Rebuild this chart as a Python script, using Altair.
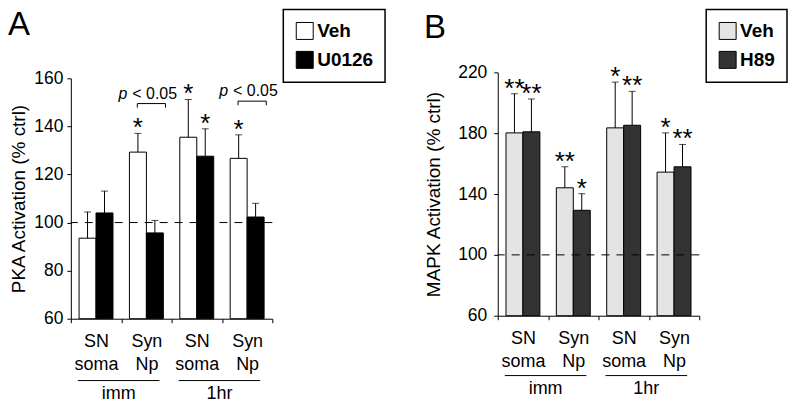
import altair as alt
import pandas as pd

# ---------------- data ----------------
SITES = ["SN soma", "Syn Np", "SN soma", "Syn Np"]
TIMES = ["imm", "imm", "1hr", "1hr"]
GROUPS = ["imm", "1hr"]
KEYS = [f"{t}|{s}" for t, s in zip(TIMES, SITES)]

A_TREAT = ["Veh", "U0126"]
A_COLORS = ["#ffffff", "#000000"]
A_VEH = [93.5, 129.3, 135.5, 126.7]
A_VEH_ERR = [10.9, 7.8, 15.7, 9.8]
A_U = [104.0, 95.7, 127.6, 102.3]
A_U_ERR = [9.1, 5.2, 11.4, 5.7]
A_VEH_STAR = ["", "*", "*", "*"]
A_U_STAR = ["", "", "*", ""]
A_BRACKET_IDX = [1, 3]
A_BRACKET_TOP = [149.5, 150.5]
A_BRACKET_LEG = 1.7
A_YTICKS = [60, 80, 100, 120, 140, 160]

B_TREAT = ["Veh", "H89"]
B_COLORS = ["#e4e4e4", "#333333"]
B_VEH = [180.2, 144.1, 183.5, 154.4]
B_VEH_ERR = [25.8, 13.8, 30.1, 25.8]
B_H = [180.9, 129.3, 185.2, 157.9]
B_H_ERR = [21.6, 10.9, 22.3, 14.7]
B_VEH_STAR = ["**", "**", "*", "*"]
B_H_STAR = ["**", "*", "**", "**"]
B_YTICKS = [60, 100, 140, 180, 220]

REF_LINE = 100
FONT = "Liberation Sans"
W = 202


def panel(letter, treat, colors, v1, e1, s1, v2, e2, s2, yticks, ytitle,
          height, yrange, legend_x, letter_x, letter_y, label_pad, title_pad,
          group_y, brackets=None):
    rows = []
    for i, k in enumerate(KEYS):
        for tr, vals, errs, stars in ((treat[0], v1, e1, s1), (treat[1], v2, e2, s2)):
            rows.append(dict(key=k, trt=tr, val=vals[i], top=vals[i] + errs[i], star=stars[i]))
    df = pd.DataFrame(rows)
    ymin, ymax = yticks[0], yticks[-1]

    xscale = alt.Scale(domain=KEYS, paddingInner=0, paddingOuter=0)
    xaxis = alt.Axis(title=None,
                     labelExpr="indexof(datum.label, '|') >= 0 ? split(split(datum.label, '|')[1], ' ') : ''",
                     tickBand="extent", tickSize=4, labelPadding=10,
                     labelLineHeight=23, labelAngle=0, labelFontSize=18)
    if yrange is not None:
        yscale = alt.Scale(domain=[ymin, ymax], nice=False, zero=False, range=yrange)
    else:
        yscale = alt.Scale(domain=[ymin, ymax], nice=False, zero=False)
    yaxis = alt.Axis(values=yticks, title=ytitle, tickSize=4,
                     labelPadding=label_pad, titlePadding=title_pad)

    def X(field, bp=None):
        if bp is None:
            return alt.X(f"{field}:N", scale=xscale, axis=xaxis)
        return alt.X(f"{field}:N", scale=xscale, axis=xaxis, bandPosition=bp)

    def Y(field):
        return alt.Y(f"{field}:Q", scale=yscale, axis=yaxis)

    xoff = alt.XOffset("trt:N", scale=alt.Scale(domain=treat, paddingInner=0, paddingOuter=0.485))

    base = alt.Chart(df)
    bars = base.mark_bar(stroke="black", strokeWidth=1, opacity=1).encode(
        x=X("key"),
        xOffset=xoff,
        y=Y("val"),
        y2=alt.datum(ymin),
        color=alt.Color("trt:N",
                        scale=alt.Scale(domain=treat, range=colors),
                        legend=alt.Legend(orient="none", legendX=legend_x, legendY=-63,
                                          title=None, symbolType="square", symbolSize=289,
                                          symbolStrokeColor="black", symbolStrokeWidth=1,
                                          symbolOpacity=1,
                                          labelFontSize=19, labelFontWeight="bold",
                                          labelFont=FONT, labelColor="black",
                                          padding=12, rowPadding=8, labelOffset=3,
                                          strokeColor="black")),
    )
    err = base.mark_rule(color="black", strokeWidth=1).encode(
        x=X("key"), xOffset=xoff, y=Y("val"), y2="top:Q")
    caps = base.mark_tick(color="black", size=7, thickness=1, orient="horizontal").encode(
        x=X("key"), xOffset=xoff, y=Y("top"))
    stars = base.mark_text(fontSize=26, baseline="alphabetic", dy=3, color="black",
                           font=FONT).encode(
        x=X("key"), xOffset=xoff, y=Y("top"), text="star:N")

    ref = alt.Chart(pd.DataFrame({"r": [REF_LINE]})).mark_rule(
        color="black", strokeWidth=1, strokeDash=[8, 7]).encode(y=Y("r"))

    gdf = pd.DataFrame({"grp": GROUPS, "start": [KEYS[0], KEYS[2]], "end": [KEYS[1], KEYS[3]]})
    gbase = alt.Chart(gdf)
    glines = gbase.mark_rule(color="black", strokeWidth=1).encode(
        x=X("start", 0.14),
        x2=alt.X2("end", bandPosition=0.76),
        y=alt.value(group_y))
    gtext = gbase.mark_text(fontSize=18, baseline="alphabetic", color="black",
                            font=FONT).encode(
        x=X("start", 0.95), y=alt.value(group_y + 18), text="grp:N")

    let = alt.Chart(pd.DataFrame({"t": [letter]})).mark_text(
        fontSize=33, align="left", baseline="top", color="black", font=FONT).encode(
        text="t:N", x=alt.value(letter_x), y=alt.value(letter_y))

    layers = [bars, err, caps, ref, stars, glines, gtext, let]

    if brackets is not None:
        idx, tops = brackets
        bdf = pd.DataFrame({"key": [KEYS[i] for i in idx], "top": tops,
                            "bottom": [t - A_BRACKET_LEG for t in tops]})
        bb = alt.Chart(bdf)
        hline = bb.mark_rule(color="black", strokeWidth=1).encode(
            x=X("key", 0.32), x2=alt.X2("key", bandPosition=0.88), y=Y("top"))
        legl = bb.mark_rule(color="black", strokeWidth=1).encode(
            x=X("key", 0.32), y=Y("top"), y2="bottom:Q")
        legr = bb.mark_rule(color="black", strokeWidth=1).encode(
            x=X("key", 0.88), y=Y("top"), y2="bottom:Q")
        ptxt = bb.mark_text(fontSize=16, fontStyle="italic", align="right",
                            baseline="alphabetic", dx=-10, dy=-5, color="black",
                            font=FONT).encode(
            x=X("key", 0.32), y=Y("top"), text=alt.value("p"))
        ltxt = bb.mark_text(fontSize=16, align="left", baseline="alphabetic",
                            dx=-5, dy=-5, color="black", font=FONT).encode(
            x=X("key", 0.32), y=Y("top"), text=alt.value("< 0.05"))
        layers += [hline, legl, legr, ptxt, ltxt]

    return alt.layer(*layers).properties(width=W, height=height)


panelA = panel("A", A_TREAT, A_COLORS, A_VEH, A_VEH_ERR, A_VEH_STAR, A_U, A_U_ERR, A_U_STAR,
               A_YTICKS, "PKA Activation (% ctrl)", 247, [247, 6], 213, -63, -63, 4, 5,
               309, brackets=(A_BRACKET_IDX, A_BRACKET_TOP))
panelB = panel("B", B_TREAT, B_COLORS, B_VEH, B_VEH_ERR, B_VEH_STAR, B_H, B_H_ERR, B_H_STAR,
               B_YTICKS, "MAPK Activation (% ctrl)", 244, None, 209, -74, -60, 7, 14,
               304)

chart = alt.hconcat(panelA, panelB, spacing=226, bounds="flush", padding=0).resolve_scale(
    x="independent", y="independent", color="independent", xOffset="independent"
).configure_view(stroke=None).configure_axis(
    domainColor="black", tickColor="black", labelColor="black", titleColor="black",
    labelFont=FONT, titleFont=FONT, grid=False, titleFontWeight="normal",
    titleFontSize=19, labelFontSize=17.5, domainWidth=1, tickWidth=1
).configure_legend(strokeWidth=1.5)

chart.save("out.html", embed_options={"renderer": "svg", "actions": False})
